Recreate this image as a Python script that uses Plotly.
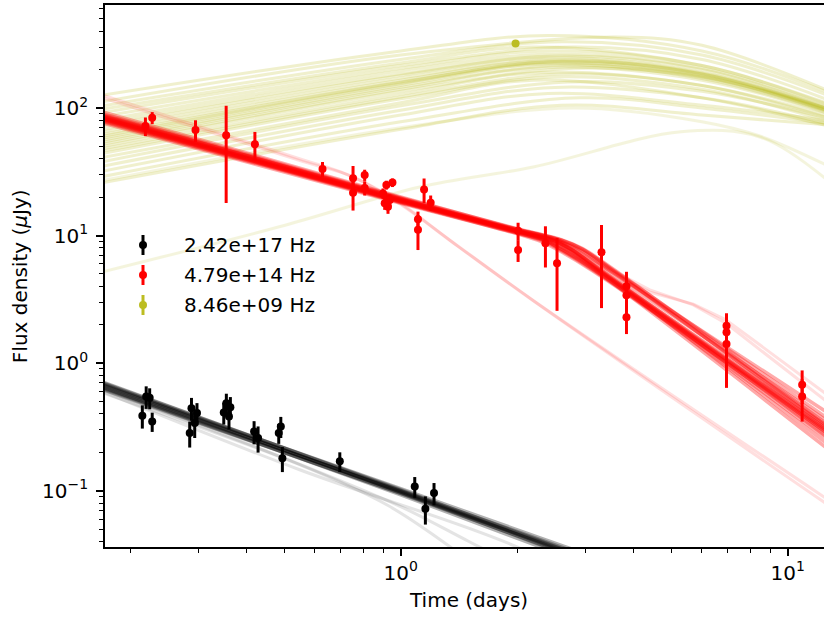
import plotly.graph_objects as go

# ---------------- observed data ----------------
xray_t = [0.215, 0.220, 0.2246, 0.228, 0.285, 0.288, 0.2936, 0.2976, 0.349, 0.3544,
          0.360, 0.363, 0.418, 0.428, 0.484, 0.490, 0.4946, 0.696, 1.087, 1.158, 1.219]
xray_f = [0.387, 0.548, 0.535, 0.349, 0.283, 0.444, 0.339, 0.406, 0.410, 0.486,
          0.382, 0.452, 0.291, 0.259, 0.283, 0.319, 0.180, 0.170, 0.108, 0.0723, 0.0959]
xray_err = [0.08, 0.11, 0.10, 0.06, 0.065, 0.09, 0.08, 0.08, 0.08, 0.09,
            0.08, 0.09, 0.06, 0.06, 0.05, 0.06, 0.04, 0.03, 0.02, 0.018, 0.019]

opt_t = [0.219, 0.228, 0.295, 0.354, 0.420, 0.628, 0.753, 0.753, 0.807, 0.807,
         0.900, 0.909, 0.918, 0.927, 0.952, 0.937, 1.108, 1.108, 1.149, 1.195,
         2.010, 2.010, 2.365, 2.534, 3.301, 3.830, 3.830, 3.830,
         6.944, 6.944, 6.944, 10.89, 10.89]
opt_f = [72.2, 83.8, 67.1, 61.0, 51.9, 33.2, 28.1, 21.7, 29.8, 23.6,
         21.4, 17.9, 24.9, 16.8, 26.0, 19.0, 13.4, 11.1, 23.0, 18.1,
         10.9, 7.71, 8.72, 6.07, 7.40, 4.0, 3.4, 2.29,
         1.96, 1.75, 1.41, 0.677, 0.548]
opt_err = [12, 9, 13, 43, 13, 4.5, 7, 6, 3, 3,
           2, 2, 2, 2, 2, 2, 2, 3.4, 5, 2.5,
           1.7, 1.5, 3.1, 3.5, 4.7, 1.2, 0.8, 0.6,
           0.5, 0.4, 0.77, 0.2, 0.2]

radio_t = [1.98]
radio_f = [320]
radio_err = [15]

names = ["2.42e+17 Hz", "4.79e+14 Hz", "8.46e+09 Hz"]
c_black = "#000000"
c_red = "#ff0000"
c_olive = "#bcbd22"

# ---------------- model sample curves ----------------
# X-ray samples: nodes at t = 0.17, 1.0, 5.0
xray_model_t = [0.17, 1.0, 5.0]
xray_model_f = [
    [0.664, 0.098, 0.0165], [0.70, 0.102, 0.0170], [0.63, 0.095, 0.0162],
    [0.69, 0.097, 0.0155], [0.64, 0.100, 0.0180], [0.68, 0.104, 0.0185],
    [0.65, 0.093, 0.0150], [0.67, 0.099, 0.0172], [0.71, 0.100, 0.0160],
    [0.62, 0.096, 0.0175],
]
xray_faint = [
    ([0.17, 0.548, 0.92, 1.34, 1.8], [0.585, 0.16, 0.0776, 0.0364, 0.018]),
    ([0.17, 0.548, 1.99, 3.3], [0.597, 0.146, 0.0364, 0.016]),
    ([0.17, 0.5, 1.0, 1.5, 2.2], [0.62, 0.18, 0.075, 0.040, 0.022]),
]

# optical samples
tA = [0.17, 1.0, 2.0, 2.45, 2.75, 3.3, 12.5]
tB = [0.17, 1.0, 2.0, 2.6, 2.95, 3.5, 12.5]
tC = [0.17, 1.0, 2.0, 2.3, 2.55, 3.1, 12.5]
opt_model = [
    (tA, [84, 18.9, 10.9, 9.3, 7.8, 5.3, 0.30]),
    (tA, [90, 19.8, 11.3, 9.7, 8.2, 5.7, 0.36]),
    (tA, [78, 18.1, 10.5, 8.9, 7.4, 5.0, 0.26]),
    (tB, [86, 19.3, 11.1, 9.2, 7.8, 5.5, 0.38]),
    (tC, [82, 18.6, 10.6, 9.4, 8.1, 5.8, 0.27]),
    (tA, [80, 18.4, 10.7, 9.1, 7.6, 5.2, 0.33]),
    (tA, [93, 20.1, 11.2, 9.5, 7.9, 5.2, 0.24]),
    (tB, [81, 18.5, 10.7, 8.8, 7.4, 5.2, 0.42]),
    (tC, [87, 19.4, 10.9, 9.6, 8.1, 5.6, 0.22]),
    (tA, [76, 17.9, 10.4, 8.8, 7.5, 5.1, 0.31]),
    (tB, [88, 19.6, 11.2, 9.3, 7.9, 5.6, 0.34]),
    (tC, [79, 18.2, 10.3, 9.0, 7.7, 5.4, 0.29]),
    (tA, [85, 19.1, 11.0, 9.35, 7.85, 5.35, 0.31]),
    (tB, [83, 18.8, 10.8, 9.0, 7.6, 5.35, 0.33]),
    (tC, [84, 19.0, 10.8, 9.5, 8.0, 5.6, 0.28]),
    (tA, [82, 18.7, 10.8, 9.2, 7.7, 5.25, 0.29]),
    (tB, [87, 19.5, 11.1, 9.2, 7.8, 5.45, 0.32]),
    (tC, [81, 18.5, 10.5, 9.2, 7.9, 5.5, 0.30]),
]
opt_faint = [
    ([0.17, 0.56, 0.7, 0.94, 1.34, 2.19, 12.5], [126, 39.1, 31.5, 20.2, 9.2, 3.13, 0.088]),
    ([0.17, 0.56, 0.75, 1.0, 1.4, 2.3, 12.5], [120, 38, 29, 17.5, 8.3, 2.8, 0.080]),
    ([0.17, 1.0, 2.0, 2.6, 3.2, 4.4, 5.7, 6.9, 12.5], [85, 19.2, 11.0, 8.8, 6.2, 3.75, 2.86, 2.07, 0.51]),
    ([0.17, 1.0, 2.0, 2.6, 3.2, 4.4, 5.7, 6.9, 12.5], [83, 19.0, 10.9, 8.6, 6.0, 3.6, 2.9, 2.2, 0.58]),
]

# radio samples: (F at 0.17, F at 1.0, t_peak, F_peak, F at 6.0, F at 12.5)
radio_model = [
    (126, 280, 2.4, 370, 280, 135), (112, 260, 3.6, 360, 310, 140),
    (104, 240, 2.6, 330, 260, 128), (98, 225, 2.2, 300, 215, 110),
    (92, 215, 2.8, 300, 240, 118), (86, 205, 2.4, 280, 215, 108),
    (80, 195, 2.5, 265, 205, 104), (76, 185, 2.6, 255, 200, 102),
    (72, 180, 2.4, 250, 190, 100), (68, 172, 2.5, 240, 188, 98),
    (65, 165, 2.4, 235, 185, 97), (62, 160, 2.6, 232, 185, 100),
    (60, 158, 2.4, 228, 180, 96), (58, 155, 2.5, 225, 178, 95),
    (56, 150, 2.3, 220, 170, 93), (54, 145, 2.6, 215, 175, 97),
    (52, 140, 2.4, 208, 165, 92), (50, 135, 2.8, 205, 175, 100),
    (48, 128, 2.3, 190, 150, 88), (46, 122, 2.6, 185, 150, 85),
    (44, 118, 2.5, 175, 140, 80), (41, 110, 2.2, 165, 120, 73),
    (38, 104, 2.7, 160, 135, 84), (35, 96, 2.5, 145, 120, 76),
    (32, 88, 2.4, 130, 105, 80), (29, 78, 2.9, 120, 100, 76),
    (26, 68, 2.6, 105, 88, 74),
]
radio_faint = [
    ([0.17, 0.5, 1.12, 2.2, 5.3, 8.5, 12.5], [5.2, 12, 24, 34.5, 65, 59, 28]),
    ([0.17, 1.0, 2.8, 6.0, 8.5, 12.5], [27, 70, 100, 78, 60, 36]),
]

fig = go.Figure()

def add_line(t, f, color, opacity, shape="linear", width=3):
    fig.add_trace(go.Scatter(x=t, y=f, mode="lines", showlegend=False, hoverinfo="skip",
                             opacity=opacity,
                             line=dict(color=color, width=width, shape=shape,
                                       smoothing=1.0 if shape == "spline" else None)))

for row in radio_model:
    f0, f1, tp, fp, f6, fe = row
    add_line([0.17, 1.0, tp, 6.0, 12.5], [f0, f1, fp, f6, fe], c_olive, 0.22, "spline")
for t, f in radio_faint:
    add_line(t, f, c_olive, 0.15, "spline")

for i, (t, f) in enumerate(opt_faint):
    add_line(t, f, c_red, 0.12, "spline" if i < 2 else "linear")
for t, f in opt_model:
    add_line(t, f, c_red, 0.33, "spline", width=3.5)

for t, f in xray_faint:
    add_line(t, f, c_black, 0.1, "spline")
for f in xray_model_f:
    add_line(xray_model_t, f, c_black, 0.3, "linear", width=3.5)

series = [(xray_t, xray_f, xray_err, c_black, names[0]),
          (opt_t, opt_f, opt_err, c_red, names[1]),
          (radio_t, radio_f, radio_err, c_olive, names[2])]
for t, f, e, col, nm in series:
    fig.add_trace(go.Scatter(
        x=t, y=f, mode="markers", name=nm, showlegend=False, hoverinfo="skip",
        marker=dict(color=col, size=8, line=dict(width=0)),
        error_y=dict(type="data", array=e, visible=True, color=col, thickness=3, width=0),
    ))

# legend drawn matplotlib-style (marker with error bar glyph + label)
shapes = []
annotations = []
PLOT_L, PLOT_W, PLOT_B, PLOT_H = 105, 719, 547, 542
for i, (_, _, _, col, nm) in enumerate(series):
    py = 245 + 30 * i
    yp = (PLOT_B - py) / PLOT_H
    xp = (143 - PLOT_L) / PLOT_W
    shapes.append(dict(type="line", xref="paper", yref="paper", xsizemode="pixel",
                       ysizemode="pixel", xanchor=xp, yanchor=yp, x0=0, x1=0, y0=-10, y1=10,
                       line=dict(color=col, width=3)))
    shapes.append(dict(type="circle", xref="paper", yref="paper", xsizemode="pixel",
                       ysizemode="pixel", xanchor=xp, yanchor=yp, x0=-4, x1=4, y0=-4, y1=4,
                       fillcolor=col, line=dict(width=0)))
    annotations.append(dict(text=nm, xref="paper", yref="paper", x=(182 - PLOT_L) / PLOT_W,
                            y=yp, xanchor="left", yanchor="middle", showarrow=False,
                            font=dict(size=20)))

annotations += [
    dict(text="Time (days)", xref="paper", yref="paper", x=0.506, y=-0.098,
         showarrow=False, xanchor="center", yanchor="middle", font=dict(size=20)),
    dict(text="Flux density (<i>μ</i>Jy)", xref="paper", yref="paper", x=-0.118, y=0.5,
         showarrow=False, textangle=-90, xanchor="center", yanchor="middle",
         font=dict(size=20)),
]

minor_x = [m * 10 ** e for e in (-1, 0, 1) for m in range(2, 10)]
minor_y = [m * 10 ** e for e in (-2, -1, 0, 1, 2) for m in range(2, 10)]

axis_common = dict(type="log", showgrid=False, zeroline=False, showline=True,
                   linecolor="black", linewidth=1.6, ticks="outside", ticklen=7,
                   tickwidth=1.6, tickcolor="black",
                   tickfont=dict(size=20, color="black", family="DejaVu Sans"))

fig.update_xaxes(**axis_common, range=[-0.764, 1.0935], mirror=True,
                 tickmode="array", tickvals=[0.1, 1, 10],
                 ticktext=["10<sup>−1</sup>", "10<sup>0</sup>", "10<sup>1</sup>"],
                 minor=dict(tickmode="array", tickvals=minor_x, ticks="outside",
                            ticklen=4, tickwidth=1.2, tickcolor="black"))
fig.update_yaxes(**axis_common, range=[-1.441, 2.807], mirror=False,
                 tickmode="array", tickvals=[0.1, 1, 10, 100],
                 ticktext=["10<sup>−1</sup>", "10<sup>0</sup>", "10<sup>1</sup>", "10<sup>2</sup>"],
                 ticklabelstandoff=4,
                 minor=dict(tickmode="array", tickvals=minor_y, ticks="outside",
                            ticklen=4, tickwidth=1.2, tickcolor="black"))

fig.update_layout(
    width=824, height=619,
    margin=dict(l=105, r=0, t=5, b=72),
    paper_bgcolor="white", plot_bgcolor="white",
    font=dict(family="DejaVu Sans", size=20, color="black"),
    showlegend=False,
    hovermode=False,
    shapes=shapes,
    annotations=annotations,
)

fig.write_html("out.html", config={"displayModeBar": False},
               post_script="document.body.style.margin='0';")
